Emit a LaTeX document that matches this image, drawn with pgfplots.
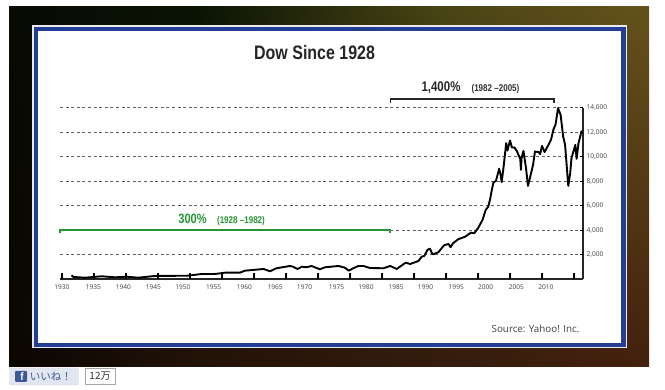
\documentclass[border=0pt]{standalone}
\usepackage{fontspec}
\usepackage{pgfplots}
\pgfplotsset{compat=1.18}
\usetikzlibrary{shadings}
\setmainfont{Open Sans}
\newfontfamily\cond[FakeStretch=0.82]{Liberation Sans}
\newfontfamily\condtwo[FakeStretch=0.9]{Liberation Sans}
\newfontfamily\cjk{Noto Sans CJK JP}
\definecolor{fb}{RGB}{59,89,152}
\definecolor{gr}{RGB}{38,150,50}
\definecolor{frameblue}{RGB}{36,62,150}
\begin{document}
\begin{tikzpicture}
\begin{scope}[x=1pt,y=-1pt,shift={(0pt,390pt)}]
\fill[white] (0,0) rectangle (665,390);
% backdrop
\shade[upper left={rgb,255:red,8;green,10;blue,4},upper right={rgb,255:red,10;green,20;blue,4},lower left={rgb,255:red,10;green,6;blue,2},lower right={rgb,255:red,35;green,18;blue,8}] (9,7) rectangle (200,367);
\shade[upper left={rgb,255:red,10;green,20;blue,4},upper right={rgb,255:red,72;green,68;blue,20},lower left={rgb,255:red,35;green,18;blue,8},lower right={rgb,255:red,52;green,27;blue,12}] (200,7) rectangle (440,367);
\shade[upper left={rgb,255:red,72;green,68;blue,20},upper right={rgb,255:red,100;green,82;blue,28},lower left={rgb,255:red,52;green,27;blue,12},lower right={rgb,255:red,68;green,32;blue,14}] (440,7) rectangle (649,367);
% frame
\fill[white!92!black] (32,25.5) rectangle (626.5,348.5);
\fill[frameblue] (34,27) rectangle (625.5,346.7);
\fill[white] (38,31) rectangle (621,342.7);
\end{scope}

\begin{axis}[
  at={(60pt,111pt)}, anchor=origin,
  scale only axis, width=523pt, height=171.2pt,
  xmin=1929.7, xmax=2011.4, ymin=0, ymax=14000,
  axis x line*=bottom, axis y line*=right,
  axis line style={black!85, line width=1.5pt, -},
  clip=false,
  xtick={1930,1935,...,2010}, xticklabels={},
  ytick={2000,4000,...,14000},
  scaled y ticks=false,
  major tick length=0pt,
  ymajorgrids, grid style={black!62, line width=0.6pt, dash pattern=on 3pt off 2.6pt},
  unbounded coords=jump,
  /pgf/number format/assume math mode=true,
  /pgf/number format/.cd, 1000 sep={,}, /pgfplots/.cd,
  yticklabel style={font=\fontsize{6.6}{7}\selectfont, text=black!75, inner sep=0pt, xshift=3.5pt},
]
% tick marks
\addplot[ycomb, black, line width=1.2pt, no marks] coordinates {
(1930,450)(1935,450)(1940,450)(1945,450)(1950,450)(1955,450)(1960,450)(1965,450)(1970,450)
(1975,450)(1980,450)(1985,450)(1990,450)(1995,450)(2000,450)(2005,450)(2010,450)};
\addplot[black, line width=1.1pt, no marks] coordinates {
(2010.9,2000)(2011.4,2000)(2011.4,nan)(2010.9,4000)(2011.4,4000)(2011.4,nan)(2010.9,6000)(2011.4,6000)(2011.4,nan)
(2010.9,8000)(2011.4,8000)(2011.4,nan)(2010.9,10000)(2011.4,10000)(2011.4,nan)(2010.9,12000)(2011.4,12000)(2011.4,nan)
(2010.9,14000)(2011.4,14000)};
\addplot[black, line width=1.9pt, line join=round, no marks] coordinates {
(1931.5,303)(1931.8,164)(1933.6,106)(1936.2,221)(1938.3,139)(1940.1,188)(1941.9,106)(1944.5,246)
(1949.7,270)(1951.8,409)(1953.9,409)(1955.5,516)(1957.8,516)(1958.6,680)(1961.5,819)(1962.5,630)
(1963.5,876)(1965.6,1064)(1966.1,1007)(1966.8,819)(1967.5,1007)(1968.2,958)(1969.0,1064)(1970.3,794)
(1971.1,958)(1973.2,1064)(1974.2,925)(1974.8,680)(1975.5,876)(1976.3,1064)(1977.1,1064)(1978.1,900)
(1980.2,876)(1981.3,1064)(1982.3,819)(1982.8,1007)(1983.7,1334)(1984.4,1228)(1985.7,1474)(1986.2,1826)
(1986.6,1883)(1987.1,2374)(1987.5,2481)(1987.8,2104)(1988.0,2022)(1988.8,2186)(1989.7,2759)(1990.4,2865)
(1990.7,2595)(1991.1,2923)(1991.9,3250)(1993.0,3463)(1993.9,3791)(1994.4,3741)(1995.0,4151)(1995.7,4830)
(1996.2,5649)(1996.6,5919)(1996.9,6550)(1997.1,7123)(1997.4,7884)(1997.8,8023)(1998.3,9006)(1998.5,8596)
(1998.7,7917)(1999.0,9194)(1999.4,11110)(1999.6,10504)(2000.0,11323)(2000.3,10750)(2000.7,10750)(2001.1,10422)
(2001.6,9800)(2001.7,8924)(2001.8,9882)(2002.1,10479)(2002.5,9063)(2002.8,7614)(2003.1,8244)(2003.6,9333)
(2003.9,10422)(2004.5,10373)(2004.7,10209)(2005.0,10889)(2005.4,10373)(2006.0,10970)(2006.4,11380)(2006.8,12256)
(2007.1,12608)(2007.5,13975)(2007.9,13427)(2008.3,11650)(2008.6,10970)(2009.1,7614)(2009.4,8654)(2009.6,9882)
(2010.2,10970)(2010.4,9824)(2010.7,11110)(2011.2,12141)
};
\addplot[gr, line width=1.7pt, no marks] coordinates {(1929.7,3725)(1929.7,3987)(1981.3,3987)(1981.3,3725)};
\addplot[black!85, line width=1.5pt, no marks] coordinates {(1981.3,14409)(1981.3,14737)(2006.9,14737)(2006.9,14409)};
\end{axis}

% x labels stand apart from the ticks in the reference
\begin{axis}[
  at={(60pt,111pt)}, anchor=origin,
  scale only axis, width=523pt, height=171.2pt,
  xmin=1929.7, xmax=2011.4, ymin=0, ymax=14000,
  axis x line*=bottom, hide y axis,
  axis line style={draw=none},
  xtick={1930,1934.9,1939.6,1944.3,1948.9,1953.7,1958.5,1963.3,1967.9,1972.9,1977.5,1982.2,1986.8,1991.6,1996.2,2001,2005.6},
  xticklabels={1930,1935,1940,1945,1950,1955,1960,1965,1970,1975,1980,1985,1990,1995,2000,2005,2010},
  major tick length=0pt,
  /pgf/number format/assume math mode=true,
  xticklabel style={font=\fontsize{6.6}{7}\selectfont, text=black!75, inner sep=0pt, yshift=-5.5pt},
]
\end{axis}

\begin{scope}[x=1pt,y=-1pt,shift={(0pt,390pt)}]
\node[text=black!85] at (314.6,53) {\cond\bfseries\fontsize{19.5}{20}\selectfont Dow Since 1928};
\node[text=black!85] at (441,88) {\cond\bfseries\fontsize{14}{15}\selectfont 1,400\%};
\node[text=black!80] at (495.5,89) {\cond\bfseries\fontsize{9.8}{10}\selectfont (1982 –2005)};
\node[text=gr] at (192.5,219.3) {\cond\bfseries\fontsize{13.5}{15}\selectfont 300\%};
\node[text=gr] at (241,220.7) {\cond\bfseries\fontsize{9.8}{10}\selectfont (1928 –1982)};
\node[text=black!75] at (535.5,329) {\fontsize{9.8}{11}\selectfont Source: Yahoo! Inc.};

% like button
\fill[fill=fb!15, draw=fb!25, rounded corners=2pt] (9.5,368) rectangle (78.5,385);
\fill[fb, rounded corners=1pt] (15,371) rectangle (27,382);
\node[text=white, inner sep=0pt] at (22,377) {\condtwo\bfseries\fontsize{11}{11}\selectfont f};
\node[text=fb, inner sep=0pt] at (51,376.5) {\cjk\fontsize{10.5}{11}\selectfont いいね！};
\fill[white, draw=black!35, line width=.6pt] (85,368.5) rectangle (115,384);
\node[text=black!80, inner sep=0pt] at (100,376.3) {\cjk\fontsize{10}{11}\selectfont 12万};
\end{scope}
\end{tikzpicture}
\end{document}
